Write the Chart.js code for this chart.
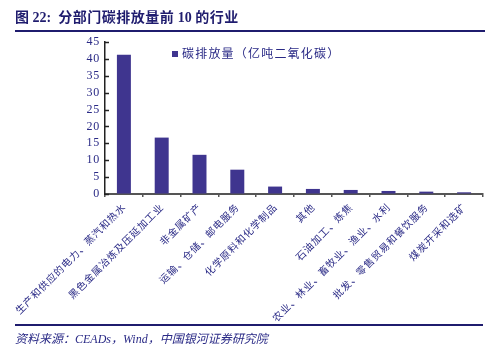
<!DOCTYPE html>
<html>
<head>
<meta charset="utf-8">
<script src="https://cdn.jsdelivr.net/npm/chart.js@4.4.0/dist/chart.umd.min.js"></script>
<style>
  html,body{margin:0;padding:0;background:#fff;}
  #wrap{position:relative;width:503px;height:352px;overflow:hidden;}
  #c{position:absolute;left:0;top:0;}
  .title{position:absolute;left:15px;top:6px;font-family:"Liberation Serif","Noto Sans CJK SC",serif;font-weight:bold;font-size:14px;color:#1f1c6e;white-space:nowrap;}
  .title .cn{font-family:"Noto Sans CJK SC",sans-serif;letter-spacing:0.5px;}
  .hline{position:absolute;left:15px;height:2px;background:#1f1c6e;}
  .src{position:absolute;left:15px;top:329px;font-family:"Liberation Serif","Noto Sans CJK SC",serif;font-style:italic;font-size:12px;color:#2a2a86;white-space:nowrap;}
  .legend{position:absolute;left:172px;top:44px;font-family:"Noto Sans CJK SC",sans-serif;font-size:12px;color:#2a2a86;white-space:nowrap;letter-spacing:1.2px;}
  .legend .sw{display:inline-block;width:6px;height:6px;background:#3f358f;margin-right:4px;vertical-align:middle;position:relative;top:-1px;}
</style>
</head>
<body>
<div id="wrap">
  <canvas id="c" width="503" height="352"></canvas>
  <div class="title">图 22:&nbsp; <span class="cn">分部门碳排放量前</span> 10 <span class="cn">的行业</span></div>
  <div class="hline" style="top:30px;width:470px;"></div>
  <div class="legend"><span class="sw"></span>碳排放量（亿吨二氧化碳）</div>
  <div class="hline" style="top:324px;width:468px;"></div>
  <div class="src">资料来源：CEADs，Wind，中国银河证券研究院</div>
</div>
<script>
const categories = [
  "生产和供应的电力、蒸汽和热水",
  "黑色金属冶炼及压延加工业",
  "非金属矿产",
  "运输、仓储、邮电服务",
  "化学原料和化学制品",
  "其他",
  "石油加工、炼焦",
  "农业、林业、畜牧业、渔业、水利",
  "批发、零售贸易和餐饮服务",
  "煤炭开采和选矿"
];
const seriesName = "碳排放量（亿吨二氧化碳）";
const emissions = [41.2, 16.7, 11.6, 7.2, 2.2, 1.5, 1.2, 0.9, 0.7, 0.5];
const yTicks = [0, 5, 10, 15, 20, 25, 30, 35, 40, 45];

const spacing = {
  id: 'spacing',
  beforeDraw(chart) { chart.ctx.letterSpacing = '0.8px'; },
  afterDraw(chart) { chart.ctx.letterSpacing = '0px'; }
};

const inwardTicks = {
  id: 'inwardTicks',
  afterDatasetsDraw(chart) {
    const y = chart.scales.y;
    const ctx = chart.ctx;
    ctx.save();
    ctx.strokeStyle = '#222';
    ctx.lineWidth = 1.5;
    yTicks.forEach(v => {
      const py = Math.round(y.getPixelForValue(v)) + 0.5;
      ctx.beginPath();
      ctx.moveTo(y.right, py);
      ctx.lineTo(y.right + 4, py);
      ctx.stroke();
    });
    ctx.restore();
  }
};

new Chart(document.getElementById('c'), {
  type: 'bar',
  data: {
    labels: categories,
    datasets: [{
      label: seriesName,
      data: emissions,
      backgroundColor: '#3f358f',
      borderWidth: 0,
      barPercentage: 0.37,
      categoryPercentage: 1.0
    }]
  },
  options: {
    responsive: false,
    animation: false,
    devicePixelRatio: 1,
    layout: { padding: { top: 42, left: 0, right: 20, bottom: 28 } },
    plugins: {
      legend: { display: false },
      tooltip: { enabled: false },
      title: { display: false }
    },
    scales: {
      x: {
        offset: true,
        grid: { offset: true, drawOnChartArea: false, drawTicks: true, tickLength: 3, color: '#555', lineWidth: 1.5 },
        border: { color: '#555', width: 2 },
        ticks: {
          minRotation: 45, maxRotation: 45, autoSkip: false,
          padding: 4,
          color: '#2a2a86',
          font: { family: '"Noto Sans CJK SC", sans-serif', size: 10 }
        },
        afterFit(scale) { scale.height = 130; }
      },
      y: {
        min: 0, max: 45,
        afterBuildTicks(scale) { scale.ticks = yTicks.map(v => ({ value: v })); },
        grid: { drawOnChartArea: false, drawTicks: false },
        border: { color: '#222', width: 1.5 },
        ticks: {
          autoSkip: false,
          padding: 5,
          color: '#2a2a86',
          font: { family: '"Liberation Serif", serif', size: 12 }
        },
        afterFit(scale) { scale.width = 105; }
      }
    }
  },
  plugins: [spacing, inwardTicks]
});
</script>
</body>
</html>
